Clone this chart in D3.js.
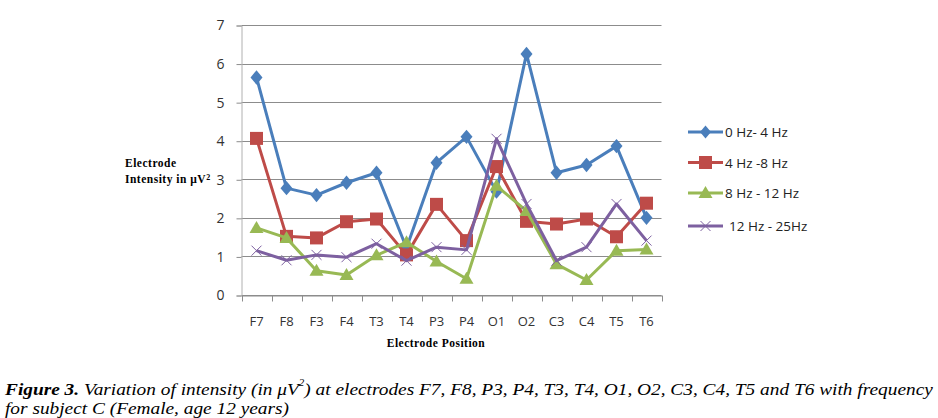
<!DOCTYPE html>
<html>
<head>
<meta charset="utf-8">
<script src="https://cdn.jsdelivr.net/npm/d3@7"></script>
<style>
  body { margin: 0; background: #fff; }
  svg { display: block; }
</style>
</head>
<body>
<svg id="canvas"></svg>
<script>
let electrodes = ['F7', 'F8', 'F3', 'F4', 'T3', 'T4', 'P3', 'P4', 'O1', 'O2', 'C3', 'C4', 'T5', 'T6']
let seriesNames = ['0 Hz- 4 Hz', '4 Hz -8 Hz', '8 Hz - 12 Hz', '12 Hz - 25Hz']
let band0to4 = [5.64, 2.77, 2.59, 2.91, 3.17, 1.22, 3.43, 4.1, 2.68, 6.25, 3.17, 3.37, 3.86, 2.0]
let band4to8 = [4.06, 1.52, 1.48, 1.9, 1.97, 1.04, 2.35, 1.41, 3.33, 1.91, 1.84, 1.97, 1.51, 2.38]
let band8to12 = [1.74, 1.48, 0.63, 0.52, 1.03, 1.37, 0.87, 0.42, 2.83, 2.18, 0.8, 0.39, 1.15, 1.18]
let band12to25 = [1.15, 0.9, 1.04, 0.98, 1.33, 0.89, 1.24, 1.17, 4.05, 2.36, 0.89, 1.24, 2.36, 1.41]
let yTicks = [0, 1, 2, 3, 4, 5, 6, 7]

let colors = ['#4a7ebb', '#be4b48', '#98b954', '#7d60a0']
let markers = ['diamond', 'square', 'triangle', 'cross']
let series = [band0to4, band4to8, band8to12, band12to25]

let width = 938
let height = 418

let canvas = d3.select('#canvas')
canvas.attr('width', width)
      .attr('height', height)

let xScale = d3.scaleBand()
               .domain(electrodes)
               .range([241.5, 661.5])

let yScale = d3.scaleLinear()
               .domain([0, 7])
               .range([295, 25])

let tickFont = '"Open Sans", "Liberation Sans", sans-serif'
let serif = '"Liberation Serif", "DejaVu Serif", serif'

// grid lines
canvas.append('g')
      .selectAll('line')
      .data(yTicks)
      .enter()
      .append('line')
      .attr('x1', 241.5)
      .attr('x2', 661.5)
      .attr('y1', (d) => Math.round(yScale(d)) + 0.5)
      .attr('y2', (d) => Math.round(yScale(d)) + 0.5)
      .attr('stroke', '#8c8c8c')
      .attr('stroke-width', 1)

// y axis
let yAxis = d3.axisLeft(yScale)
              .tickValues(yTicks)
              .tickSize(5)
              .tickPadding(12)
              .tickFormat(d3.format('d'))

let yG = canvas.append('g')
               .attr('transform', 'translate(241.5,0.5)')
               .call(yAxis)
yG.select('.domain').attr('stroke', '#b0b0b0')
yG.selectAll('.tick line').attr('stroke', '#8c8c8c')
yG.selectAll('.tick text')
  .attr('font-family', tickFont)
  .attr('font-size', 14)
  .attr('fill', '#333')

// x axis
let xAxis = d3.axisBottom(xScale)
              .tickSize(0)
              .tickPadding(21)

let xG = canvas.append('g')
               .attr('transform', 'translate(0,295.5)')
               .call(xAxis)
xG.select('.domain').attr('stroke', '#8c8c8c')
xG.selectAll('.tick text')
  .attr('font-family', tickFont)
  .attr('font-size', 13)
  .attr('fill', '#333')

// tick marks between categories
let bounds = electrodes.map((e) => xScale(e)).concat([xScale.range()[1]])
xG.selectAll('.sep')
  .data(bounds)
  .enter()
  .append('line')
  .attr('class', 'sep')
  .attr('x1', (d) => Math.round(d) + 0.5)
  .attr('x2', (d) => Math.round(d) + 0.5)
  .attr('y1', 0)
  .attr('y2', 6)
  .attr('stroke', '#8c8c8c')

let cx = (i) => xScale(electrodes[i]) + xScale.bandwidth() / 2

let drawMarker = (g, type, color, x, y, s) => {
  if (type === 'diamond') {
    g.append('path')
     .attr('d', `M${x},${y - s * 0.6} L${x + s * 0.5},${y} L${x},${y + s * 0.6} L${x - s * 0.5},${y} Z`)
     .attr('fill', color)
  } else if (type === 'square') {
    g.append('rect')
     .attr('x', x - 6.5).attr('y', y - 6.5)
     .attr('width', 13).attr('height', 13)
     .attr('fill', color)
  } else if (type === 'triangle') {
    g.append('path')
     .attr('d', `M${x},${y - 7} L${x + 7},${y + 5} L${x - 7},${y + 5} Z`)
     .attr('fill', color)
  } else {
    g.append('path')
     .attr('d', `M${x - 5},${y - 5} L${x + 5},${y + 5} M${x - 5},${y + 5} L${x + 5},${y - 5}`)
     .attr('stroke', color)
     .attr('stroke-width', 1)
     .attr('fill', 'none')
  }
}

let line = d3.line()
             .x((d, i) => cx(i))
             .y((d) => yScale(d))

series.forEach((vals, k) => {
  let g = canvas.append('g')
  g.append('path')
   .datum(vals)
   .attr('d', line)
   .attr('fill', 'none')
   .attr('stroke', colors[k])
   .attr('stroke-width', 3)
   .attr('stroke-linejoin', 'round')
  vals.forEach((v, i) => drawMarker(g, markers[k], colors[k], cx(i), yScale(v), 12))
})

// legend
let legendY = [132, 162.5, 193, 226]
seriesNames.forEach((name, k) => {
  let g = canvas.append('g')
  g.append('line')
   .attr('x1', 688).attr('x2', 723)
   .attr('y1', legendY[k]).attr('y2', legendY[k])
   .attr('stroke', colors[k])
   .attr('stroke-width', 3)
  drawMarker(g, markers[k], colors[k], 705.5, legendY[k], 11)
  g.append('text')
   .attr('x', k === 3 ? 729 : 725)
   .attr('y', legendY[k] + 5)
   .attr('font-family', tickFont)
   .attr('font-size', 13.5)
   .attr('fill', '#222')
   .text(name)
})

// axis titles
let yTitle = canvas.append('text')
                   .attr('font-family', serif)
                   .attr('font-weight', 'bold')
                   .attr('font-size', 11.5)
                   .attr('letter-spacing', 0.5)
                   .attr('fill', '#000')
yTitle.append('tspan').attr('x', 125).attr('y', 167).text('Electrode')
yTitle.append('tspan').attr('x', 125).attr('y', 183).text('Intensity in μV')
yTitle.append('tspan').attr('dy', -3).attr('font-size', 8).text('2')

canvas.append('text')
      .attr('x', 436)
      .attr('y', 347)
      .attr('text-anchor', 'middle')
      .attr('font-family', serif)
      .attr('font-weight', 'bold')
      .attr('font-size', 11.5)
      .attr('letter-spacing', 0.5)
      .text('Electrode Position')

// caption
let cap1 = canvas.append('text')
                 .attr('x', 5)
                 .attr('y', 395)
                 .attr('font-family', serif)
                 .attr('font-style', 'italic')
                 .attr('font-size', 17.5)
cap1.append('tspan').attr('font-weight', 'bold').text('Figure 3.')
cap1.append('tspan').text(' Variation of intensity (in μV')
cap1.append('tspan').attr('dy', -9).attr('font-size', 10).text('2')
cap1.append('tspan').attr('dy', 9).text(') at electrodes F7, F8, P3, P4, T3, T4, O1, O2, C3, C4, T5 and T6 with frequency')
let w1 = cap1.node().getComputedTextLength()
let sx = 928 / w1
cap1.attr('transform', `translate(5,0) scale(${sx},1) translate(-5,0)`)

canvas.append('text')
      .attr('x', 5)
      .attr('y', 414)
      .attr('font-family', serif)
      .attr('font-style', 'italic')
      .attr('font-size', 17.5)
      .attr('transform', `translate(5,0) scale(${sx},1) translate(-5,0)`)
      .text('for subject C (Female, age 12 years)')
</script>
</body>
</html>
